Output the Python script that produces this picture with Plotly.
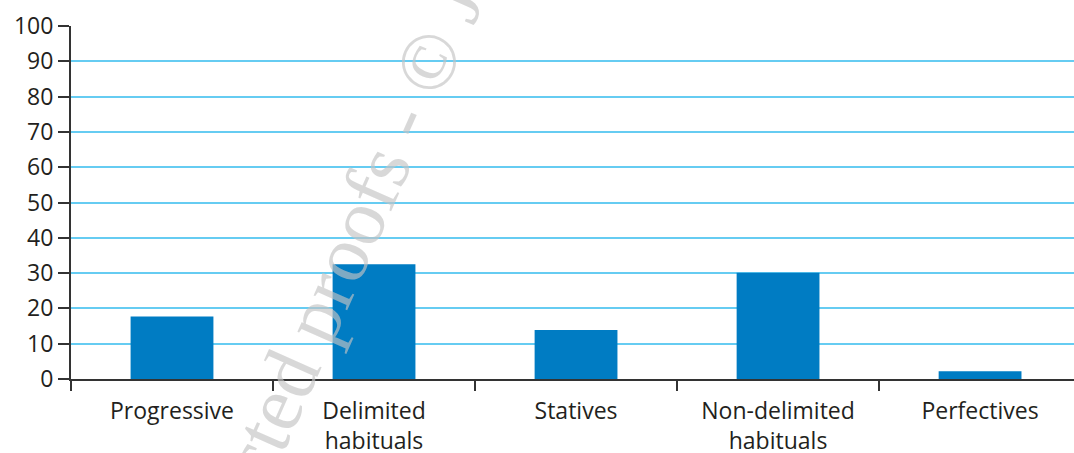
import plotly.graph_objects as go

categories = ["Progressive", "Delimited<br>habituals", "Statives", "Non-delimited<br>habituals", "Perfectives"]
values = [17.7, 32.5, 13.9, 30.1, 2.2]
y_ticks = [0, 10, 20, 30, 40, 50, 60, 70, 80, 90, 100]

W, H = 1074, 453
ml, mr, mt, mb = 71, 0, 26, 74
font_family = "Open Sans, Noto Sans, sans-serif"
text_color = "#231f20"
axis_color = "#333333"

fig = go.Figure()
fig.add_trace(go.Bar(
    x=categories, y=values,
    marker=dict(color="#007cc3", line=dict(width=0)),
    width=0.41,
))

# watermark position (pixels) converted to paper coordinates
wm_px, wm_py = 538, -185
plot_w = W - ml - mr
plot_h = H - mt - mb
fig.add_annotation(
    text="Uncorrected proofs - © John Benjamins Publishing Company",
    xref="paper", yref="paper",
    x=(wm_px - ml) / plot_w, y=(H - mb - wm_py) / plot_h,
    xanchor="center", yanchor="middle",
    showarrow=False, textangle=-66,
    font=dict(family="Liberation Serif, Times New Roman, serif", size=80, color="rgba(195,195,195,0.65)"),
)

fig.update_layout(
    width=W, height=H,
    margin=dict(l=ml, r=mr, t=mt, b=mb, pad=0),
    paper_bgcolor="white", plot_bgcolor="white",
    showlegend=False,
    font=dict(family=font_family, size=23, color=text_color),
    xaxis=dict(
        type="category",
        range=[-0.5, 4.465],
        tickson="boundaries",
        ticks="outside", ticklen=10, tickwidth=1.5, tickcolor=axis_color,
        showline=True, linecolor=axis_color, linewidth=2,
        showgrid=False,
        automargin=False,
        ticklabelstandoff=10,
        tickfont=dict(family=font_family, size=23, color=text_color),
    ),
    yaxis=dict(
        range=[0, 100],
        tickmode="array", tickvals=y_ticks, ticktext=[str(v) for v in y_ticks],
        ticks="outside", ticklen=11, tickwidth=1.5, tickcolor=axis_color,
        showline=True, linecolor=axis_color, linewidth=2,
        showgrid=True, gridcolor="#66ccf2", gridwidth=1.5,
        zeroline=False,
        automargin=False,
        tickfont=dict(family=font_family, size=23, color=text_color),
    ),
)

fig.write_html("out.html")
